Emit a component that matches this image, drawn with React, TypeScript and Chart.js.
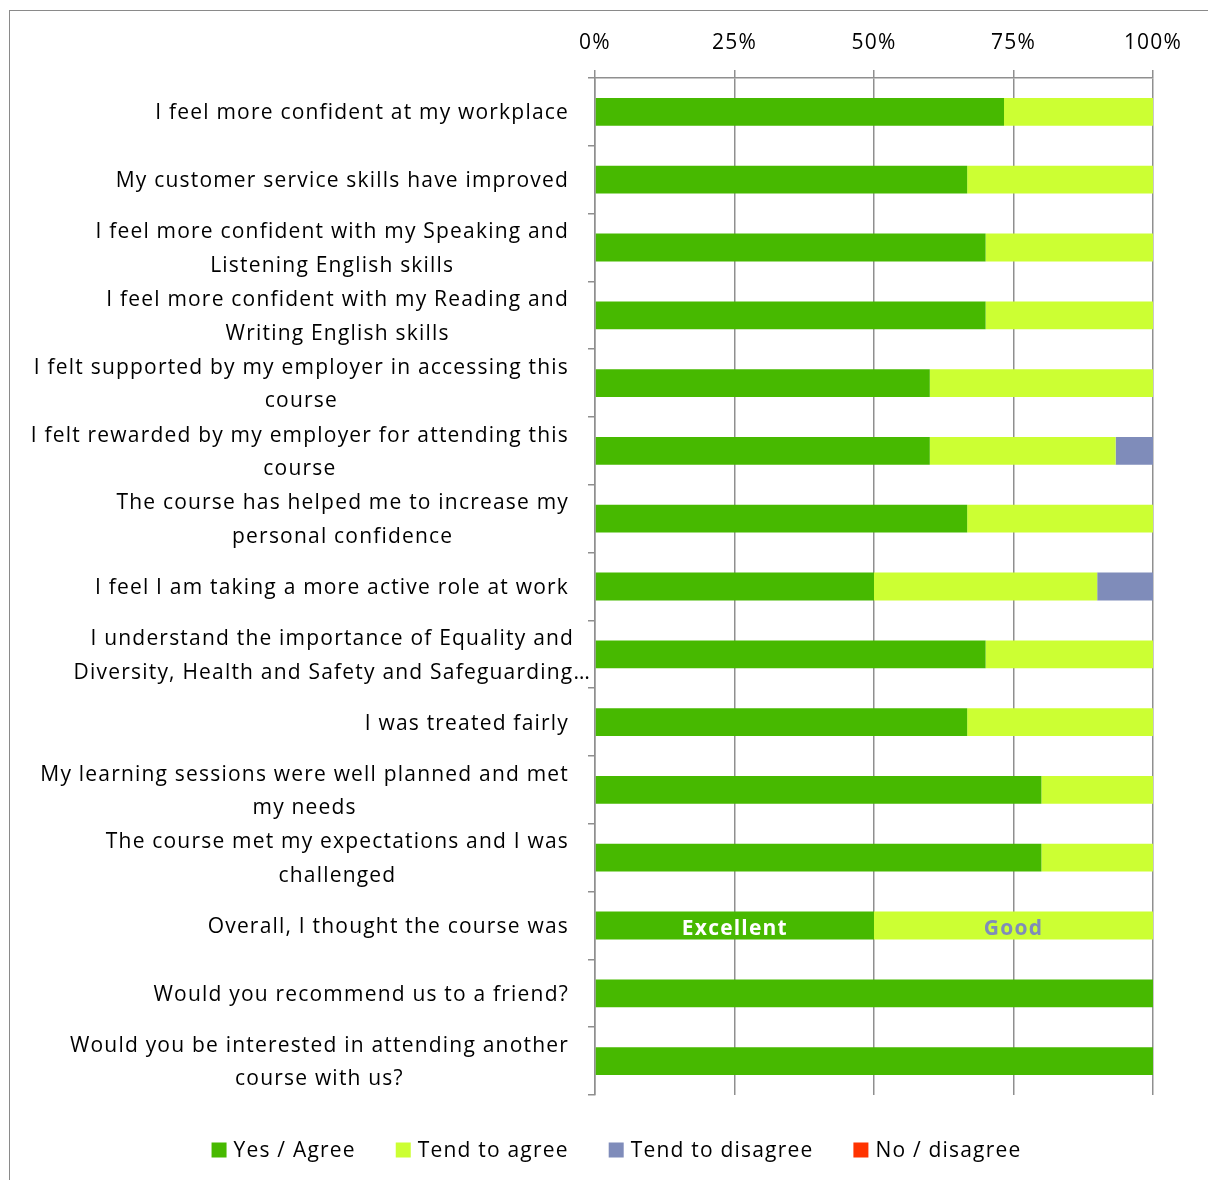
import { useEffect, useRef } from 'react';
import { Chart, registerables } from 'chart.js';

Chart.register(...registerables);

const FONT = '"Open Sans", "Noto Sans", sans-serif';
const FONT_SIZE = 21;
const LETTER_SPACING = '1.2px';
const LINE_H = 33.5;

const categories: string[][] = [
  ['I feel more confident at my workplace'],
  ['My customer service skills have improved'],
  ['I feel more confident with my Speaking and', 'Listening English skills'],
  ['I feel more confident with my Reading and', 'Writing English skills'],
  ['I felt supported by my employer in accessing this', 'course'],
  ['I felt rewarded by my employer for attending this', 'course'],
  ['The course has helped me to increase my', 'personal confidence'],
  ['I feel I am taking a more active role at work'],
  ['I understand the importance of Equality and', 'Diversity, Health and Safety and Safeguarding…'],
  ['I was treated fairly'],
  ['My learning sessions were well planned and met', 'my needs'],
  ['The course met my expectations and I was', 'challenged'],
  ['Overall, I thought the course was'],
  ['Would you recommend us to a friend?'],
  ['Would you be interested in attending another', 'course with us?'],
];

const yesAgree = [73.3, 66.7, 70, 70, 60, 60, 66.7, 50, 70, 66.7, 80, 80, 50, 100, 100];
const tendToAgree = [26.7, 33.3, 30, 30, 40, 33.3, 33.3, 40, 30, 33.3, 20, 20, 50, 0, 0];
const tendToDisagree = [0, 0, 0, 0, 0, 6.7, 0, 10, 0, 0, 0, 0, 0, 0, 0];
const noDisagree = [0, 0, 0, 0, 0, 0, 0, 0, 0, 0, 0, 0, 0, 0, 0];

const seriesNames = ['Yes / Agree', 'Tend to agree', 'Tend to disagree', 'No / disagree'];
const seriesColors = ['#47B900', '#CCFF33', '#7F8CBA', '#FF3300'];

const xTicks = [0, 25, 50, 75, 100];

// labels written inside the "Overall" row segments
const ratingRowIndex = 12;
const ratingLabels = ['Excellent', 'Good', '', ''];
const ratingLabelColors = ['#FFFFFF', '#7F8CBA', '#000000', '#000000'];

const GRID = '#8f8f8f';

const spacingPlugin = {
  id: 'letterSpacing',
  beforeUpdate(chart: any) {
    chart.ctx.letterSpacing = LETTER_SPACING;
  },
  beforeLayout(chart: any) {
    chart.ctx.letterSpacing = LETTER_SPACING;
  },
  beforeDraw(chart: any) {
    chart.ctx.letterSpacing = LETTER_SPACING;
  },
};

const categoryLabelPlugin = {
  id: 'categoryLabels',
  afterDraw(chart: any) {
    const ctx = chart.ctx;
    const y = chart.scales.y;
    ctx.save();
    ctx.letterSpacing = LETTER_SPACING;
    ctx.font = `${FONT_SIZE}px ${FONT}`;
    ctx.fillStyle = '#000';
    ctx.textAlign = 'center';
    ctx.textBaseline = 'middle';
    categories.forEach((lines, i) => {
      const yc = y.getPixelForValue(i) + 1.5;
      const widths = lines.map((l) => ctx.measureText(l).width);
      const blockW = Math.max(...widths);
      const truncated = lines.some((l) => l.endsWith('…'));
      const right = truncated ? y.right - 4 : y.right - 26;
      const cx = right - blockW / 2;
      lines.forEach((l, k) => {
        ctx.fillText(l, cx, yc - ((lines.length - 1) * LINE_H) / 2 + k * LINE_H);
      });
    });
    ctx.restore();
  },
};

const ratingLabelPlugin = {
  id: 'ratingLabels',
  afterDatasetsDraw(chart: any) {
    const ctx = chart.ctx;
    ctx.save();
    ctx.letterSpacing = LETTER_SPACING;
    ctx.font = `bold ${FONT_SIZE}px ${FONT}`;
    ctx.textAlign = 'center';
    ctx.textBaseline = 'middle';
    ratingLabels.forEach((txt, di) => {
      if (!txt) return;
      const el = chart.getDatasetMeta(di).data[ratingRowIndex];
      if (!el) return;
      ctx.fillStyle = ratingLabelColors[di];
      ctx.fillText(txt, (el.x + el.base) / 2, el.y + 4);
    });
    ctx.restore();
  },
};

// bottom legend: square swatch + label, centred under the chart
const bottomLegendPlugin = {
  id: 'bottomLegend',
  afterDraw(chart: any) {
    const ctx = chart.ctx;
    const box = 15;
    const textGap = 7;
    const itemGap = 40;
    ctx.save();
    ctx.letterSpacing = LETTER_SPACING;
    ctx.font = `${FONT_SIZE}px ${FONT}`;
    ctx.textBaseline = 'middle';
    ctx.textAlign = 'left';
    const ds = chart.data.datasets;
    const widths = ds.map((d: any) => box + textGap + ctx.measureText(d.label).width);
    const total = widths.reduce((a: number, b: number) => a + b, 0) + itemGap * (ds.length - 1);
    let x = chart.width / 2 + 7 - total / 2;
    const yc = chart.chartArea.bottom + 55;
    ds.forEach((d: any, i: number) => {
      ctx.fillStyle = d.backgroundColor;
      ctx.fillRect(x, yc - box / 2, box, box);
      ctx.fillStyle = '#000';
      ctx.fillText(d.label, x + box + textGap, yc + 1);
      x += widths[i] + itemGap;
    });
    ctx.restore();
  },
};

export default function App() {
  const ref = useRef<HTMLCanvasElement>(null);
  useEffect(() => {
    const series = [yesAgree, tendToAgree, tendToDisagree, noDisagree];
    const chart = new Chart(ref.current!, {
      type: 'bar',
      data: {
        labels: categories.map((c) => c.join(' ')),
        datasets: series.map((d, i) => ({
          label: seriesNames[i],
          data: d,
          backgroundColor: seriesColors[i],
          borderWidth: 0,
          barPercentage: 0.41,
          categoryPercentage: 1,
        })),
      },
      options: {
        indexAxis: 'y',
        responsive: false,
        animation: false,
        devicePixelRatio: 1,
        layout: { padding: { left: 0, right: 56, top: 0, bottom: 85 } },
        plugins: {
          tooltip: { enabled: false },
          legend: { display: false },
        },
        scales: {
          x: {
            type: 'linear',
            position: 'top',
            stacked: true,
            min: 0,
            max: 100,
            afterBuildTicks: (s: any) => {
              s.ticks = xTicks.map((v) => ({ value: v }));
            },
            afterFit: (s: any) => {
              s.height = 67;
            },
            ticks: {
              callback: (v: any) => `${v}%`,
              color: '#000',
              padding: 14,
              font: { family: FONT, size: FONT_SIZE },
            },
            grid: { color: GRID, lineWidth: 1.5, tickLength: 8 },
            border: { color: GRID, width: 1.5 },
          },
          y: {
            type: 'category',
            stacked: true,
            afterFit: (s: any) => {
              s.width = 585;
            },
            ticks: { callback: () => '', padding: 0 },
            grid: { drawOnChartArea: false, offset: true, color: GRID, lineWidth: 1.5, tickLength: 7 },
            border: { color: GRID, width: 1.5 },
          },
        },
      },
      plugins: [spacingPlugin, categoryLabelPlugin, ratingLabelPlugin, bottomLegendPlugin],
    } as any);
    return () => chart.destroy();
  }, []);
  return (
    <div
      style={{
        position: 'fixed',
        left: 9,
        top: 10,
        width: 1199,
        height: 1169,
        borderLeft: '1px solid #8a8a8a',
        borderTop: '1px solid #8a8a8a',
        background: '#fff',
      }}
    >
      <canvas ref={ref} width={1199} height={1169} style={{ display: 'block', width: 1199, height: 1169 }} />
    </div>
  );
}
